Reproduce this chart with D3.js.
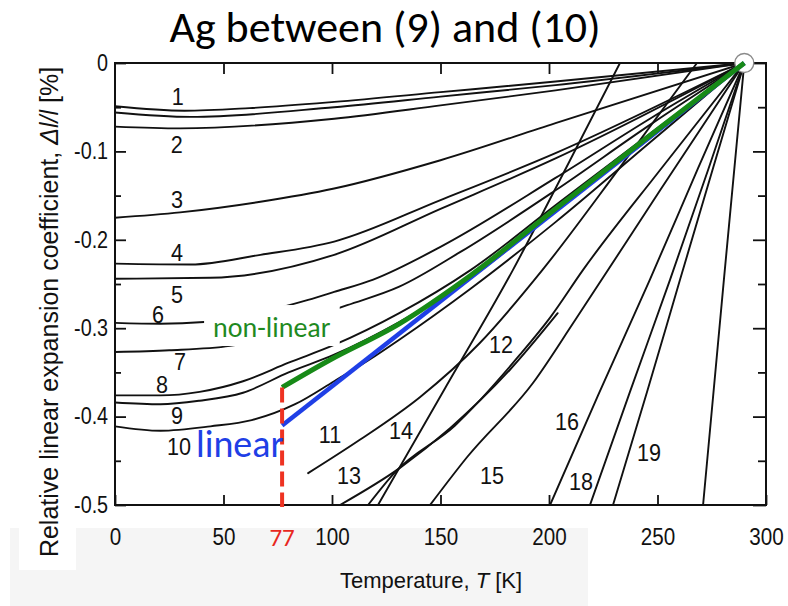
<!DOCTYPE html>
<html>
<head>
<meta charset="utf-8">
<script src="https://cdn.jsdelivr.net/npm/d3@7/dist/d3.min.js"></script>
<style>
  body { margin: 0; background: #fff; }
  svg { display: block; }
</style>
</head>
<body>
<svg id="chart" width="788" height="606"></svg>
<script>
// ---- axis ticks ----
const xTicks = [0, 50, 100, 150, 200, 250, 300];
const xTopTicks = [50, 100, 150, 200, 250];
const yTicks = [0, -0.1, -0.2, -0.3, -0.4, -0.5];
const yTickLabels = ["0", "-0.1", "-0.2", "-0.3", "-0.4", "-0.5"];
const yMinorTicks = [-0.05, -0.15, -0.25, -0.35, -0.45];

// ---- thermal contraction curves: [T (K), Δl/l (%)] ----
const curve1  = [[0,-0.049],[32,-0.054],[62,-0.051],[101,-0.044],[150,-0.033],[203,-0.021],[290,0]];
const curve1b = [[0,-0.056],[35,-0.061],[101,-0.050],[150,-0.038],[203,-0.025],[290,0]];
const curve2  = [[0,-0.072],[30,-0.074],[101,-0.063],[150,-0.048],[203,-0.031],[290,0]];
const curve3  = [[0,-0.175],[30,-0.169],[67,-0.157],[101,-0.142],[150,-0.110],[203,-0.068],[290,0]];
const curve4  = [[0,-0.227],[35,-0.228],[67,-0.217],[101,-0.202],[150,-0.155],[203,-0.102],[290,0]];
const curve5  = [[0,-0.244],[44,-0.243],[101,-0.217],[150,-0.165],[203,-0.108],[290,0]];
const curve6  = [[0,-0.294],[21,-0.295],[41,-0.293],[67,-0.282],[89,-0.268],[101,-0.259],[119,-0.245],[150,-0.208],[203,-0.130],[246.5,-0.063],[290,0]];
const curve7  = [[0,-0.327],[25,-0.325],[53,-0.320],[81,-0.296],[107,-0.274],[131,-0.253],[159,-0.214],[203,-0.144],[246.5,-0.070],[290,0]];
const curve8  = [[0,-0.376],[21,-0.376],[39,-0.372],[59,-0.360],[80,-0.339],[101,-0.319],[131,-0.283],[164,-0.234],[203,-0.161],[246.5,-0.080],[290,0]];
const curve9  = [[0,-0.384],[21,-0.386],[39,-0.382],[59,-0.373],[80,-0.350],[101,-0.330],[131,-0.293],[164,-0.243],[203,-0.167],[246.5,-0.085],[290,0]];
const curve10 = [[0,-0.411],[21,-0.416],[44,-0.411],[63,-0.404],[83,-0.386],[101,-0.360],[117,-0.336],[131,-0.313],[164,-0.255],[203,-0.180],[246.5,-0.090],[290,0]];
const curve11 = [[89,-0.464],[113,-0.426],[140.5,-0.378],[168,-0.317],[197,-0.234],[232.7,-0.118],[268.2,0]];
const curve12 = [[121.2,-0.5],[152.1,-0.368],[183.4,-0.234],[207.8,-0.119],[232.7,0]];
const curve13 = [[103.7,-0.5],[131.3,-0.458],[154.4,-0.413],[182,-0.347],[204,-0.283]];
const curve14 = [[116.6,-0.5],[129,-0.463],[156.7,-0.410],[186.6,-0.330],[200.5,-0.288],[215.7,-0.234],[251.2,-0.121],[290,0]];
const curve15 = [[145.2,-0.5],[162.2,-0.446],[192.6,-0.362],[212,-0.291],[251.2,-0.144],[290,0]];
const curve16 = [[200.5,-0.5],[222.6,-0.376],[246.5,-0.245],[268.7,-0.119],[290,0]];
const curve18 = [[218.9,-0.5],[237.3,-0.372],[255.8,-0.245],[273.3,-0.121],[290,0]];
const curve19 = [[229.5,-0.5],[245.2,-0.372],[260.4,-0.245],[275.1,-0.123],[290,0]];
const curve20 = [[271,-0.5],[280.6,-0.245],[290,0]];

const curves = [curve1, curve1b, curve2, curve3, curve4, curve5, curve6, curve7, curve8,
                curve9, curve10, curve11, curve12, curve13, curve14, curve15, curve16,
                curve18, curve19, curve20];

// curve numbers: text, T, Δl/l at label centre
const labelText = ["1","2","3","4","5","6","7","8","9","10","11","12","13","14","15","16","18","19"];
const labelT    = [28.9,28.4,28.6,28.6,28.6,19.8,30,21.7,28.6,29.5,99.1,177.9,107.8,131.8,173.7,208.3,214.7,246.1];
const labelV    = [-0.038,-0.092,-0.154,-0.214,-0.262,-0.284,-0.338,-0.363,-0.399,-0.434,-0.420,-0.318,-0.466,-0.416,-0.466,-0.405,-0.473,-0.440];

// Ag estimates from 77 K to room temperature
const agNonLinear = [[77,-0.367],[99,-0.336],[131,-0.295],[164,-0.240],[203,-0.165],[246.5,-0.082],[290,0]];
const agLinear    = [[77,-0.410],[290,0]];
const referencePoint = [290, 0];
const nitrogenT = 77;

// ---- drawing ----
const svg = d3.select("#chart");
const x = d3.scaleLinear().domain([0, 300]).range([115, 766]);
const y = d3.scaleLinear().domain([0, -0.5]).range([63, 505]);
const ink = "#111";
const sans = "'Liberation Sans', Arial, Helvetica, sans-serif";
const slide = "Carlito, Lato, 'Open Sans', sans-serif";
const condensed = "scale(0.86,1)";

// faint slide background under the axis
svg.append("rect").attr("x", 10).attr("y", 528).attr("width", 578).attr("height", 78).attr("fill", "#f5f5f5");
svg.append("rect").attr("x", 19).attr("y", 500).attr("width", 57).attr("height", 70).attr("fill", "#ffffff");

svg.append("defs").append("clipPath").attr("id", "plot")
  .append("rect").attr("x", x(0)).attr("y", y(0)).attr("width", x(300) - x(0)).attr("height", y(-0.5) - y(0));

const line = d3.line().x(d => x(d[0])).y(d => y(d[1])).curve(d3.curveMonotoneX);

svg.append("g").attr("clip-path", "url(#plot)")
  .selectAll("path").data(curves).join("path")
  .attr("d", line).attr("fill", "none").attr("stroke", ink).attr("stroke-width", 1.9)
  .attr("stroke-linecap", "round");

// axes with inward ticks
function styleAxis(g) {
  g.select(".domain").remove();
  g.selectAll(".tick line").attr("stroke", ink).attr("stroke-width", 1.8);
}
svg.append("g").attr("transform", `translate(0,${y(-0.5)})`)
  .call(d3.axisBottom(x).tickValues(xTicks).tickSizeInner(-10).tickSizeOuter(0).tickPadding(23))
  .call(styleAxis)
  .call(g => g.selectAll("text").attr("font-family", sans).attr("font-size", 24).attr("fill", ink)
                .attr("transform", condensed));
svg.append("g").attr("transform", `translate(0,${y(0)})`)
  .call(d3.axisTop(x).tickValues(xTopTicks).tickSizeInner(-11).tickSizeOuter(0).tickFormat(""))
  .call(styleAxis);
svg.append("g").attr("transform", `translate(${x(0)},0)`)
  .call(d3.axisLeft(y).tickValues(yTicks).tickSizeInner(-11).tickSizeOuter(0).tickPadding(8)
        .tickFormat((d, i) => yTickLabels[i]))
  .call(styleAxis)
  .call(g => g.selectAll("text").attr("font-family", sans).attr("font-size", 23).attr("fill", ink)
                .attr("transform", condensed));
svg.append("g").attr("transform", `translate(${x(0)},0)`)
  .call(d3.axisLeft(y).tickValues(yMinorTicks).tickSizeInner(-6).tickSizeOuter(0).tickFormat(""))
  .call(styleAxis);
svg.append("g").attr("transform", `translate(${x(300)},0)`)
  .call(d3.axisRight(y).tickValues(yTicks).tickSizeInner(-13).tickSizeOuter(0).tickFormat(""))
  .call(styleAxis);
svg.append("g").attr("transform", `translate(${x(300)},0)`)
  .call(d3.axisRight(y).tickValues(yMinorTicks).tickSizeInner(-8).tickSizeOuter(0).tickFormat(""))
  .call(styleAxis);

svg.append("rect").attr("x", x(0)).attr("y", y(0))
  .attr("width", x(300) - x(0)).attr("height", y(-0.5) - y(0))
  .attr("fill", "none").attr("stroke", ink).attr("stroke-width", 2);

// curve numbers
svg.append("g").selectAll("g").data(labelText).join("g")
  .attr("transform", (d, i) => `translate(${x(labelT[i])},${y(labelV[i])})`)
  .append("text")
  .attr("dy", "0.36em").attr("text-anchor", "middle").attr("transform", "scale(0.9,1)")
  .attr("font-family", sans).attr("font-size", 24).attr("fill", ink)
  .text(d => d);

// reference point at room temperature
svg.append("circle").attr("cx", x(referencePoint[0])).attr("cy", y(referencePoint[1])).attr("r", 9.5)
  .attr("fill", "#fff").attr("stroke", "#8a8a8a").attr("stroke-width", 1.3);

// linear and non-linear estimates for Ag
svg.append("path").datum(agLinear).attr("d", d3.line().x(d => x(d[0])).y(d => y(d[1])))
  .attr("fill", "none").attr("stroke", "#1f3fe6").attr("stroke-width", 4.5);
svg.append("path").datum(agNonLinear).attr("d", line)
  .attr("fill", "none").attr("stroke", "#178a17").attr("stroke-width", 5);

// 77 K marker
svg.append("line")
  .attr("x1", x(nitrogenT)).attr("x2", x(nitrogenT))
  .attr("y1", y(agNonLinear[0][1])).attr("y2", y(-0.5) + 2)
  .attr("stroke", "#ee3322").attr("stroke-width", 4).attr("stroke-dasharray", "15,6");
svg.append("text").attr("x", x(nitrogenT)).attr("y", 546).attr("text-anchor", "middle")
  .attr("font-family", slide).attr("font-size", 25).attr("fill", "#e8281e").text(nitrogenT);

// annotations
const nl = svg.append("text").attr("x", x(45.2)).attr("y", y(-0.310))
  .attr("font-family", slide).attr("font-size", 28).attr("fill", "#1f8a1f").text("non-linear");
const bb = nl.node().getBBox();
svg.append("rect")
  .attr("x", bb.x - 9).attr("y", bb.y - 5).attr("width", bb.width + 18).attr("height", bb.height + 6)
  .attr("fill", "#fff");
nl.raise();
svg.append("text").attr("x", x(37.3)).attr("y", y(-0.446))
  .attr("font-family", slide).attr("font-size", 38).attr("fill", "#1f3fe6").text("linear");

// titles
svg.append("text").attr("x", 385).attr("y", 42).attr("text-anchor", "middle")
  .attr("font-family", slide).attr("font-size", 44).attr("fill", "#000")
  .text("Ag between (9) and (10)");

const xt = svg.append("text").attr("x", 431).attr("y", 588).attr("text-anchor", "middle")
  .attr("font-family", sans).attr("font-size", 22).attr("fill", ink);
xt.append("tspan").text("Temperature, ");
xt.append("tspan").attr("font-style", "italic").text("T");
xt.append("tspan").text(" [K]");

const yt = svg.append("text").attr("transform", "translate(58,312) rotate(-90)").attr("text-anchor", "middle")
  .attr("font-family", sans).attr("font-size", 25).attr("fill", ink);
yt.append("tspan").text("Relative linear expansion coefficient, ");
yt.append("tspan").attr("font-style", "italic").text("Δl/l");
yt.append("tspan").text(" [%]");
</script>
</body>
</html>
